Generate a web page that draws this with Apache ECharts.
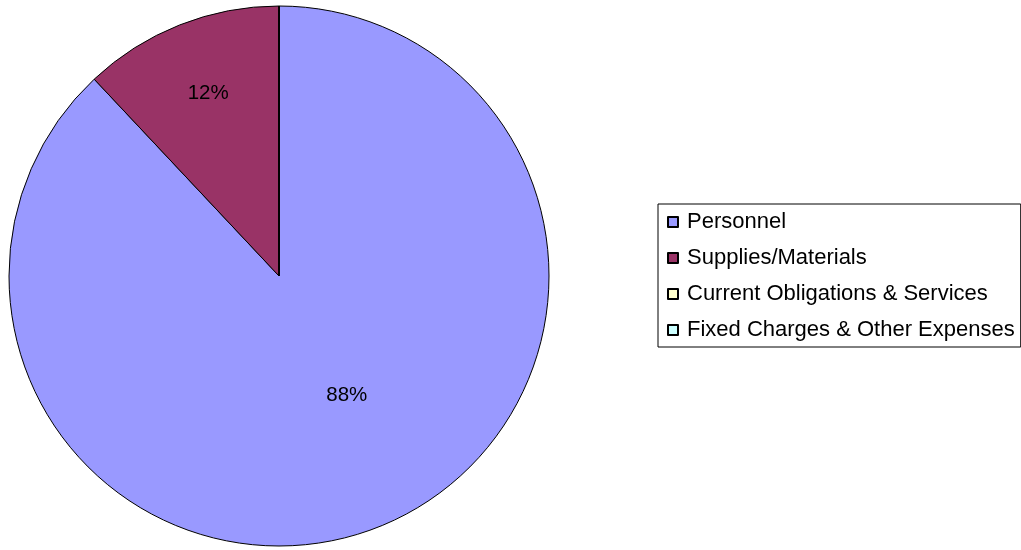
<!DOCTYPE html>
<html>
<head>
<meta charset="utf-8">
<script src="https://cdn.jsdelivr.net/npm/echarts@6/dist/echarts.min.js"></script>
<style>
  html, body { margin: 0; padding: 0; background: #fff; }
  #chart { width: 1021px; height: 550px; }
</style>
</head>
<body>
<div id="chart"></div>
<script>
// 费用构成
var categories = ["Personnel", "Supplies/Materials", "Current Obligations & Services", "Fixed Charges & Other Expenses"];
var values = [88, 12, 0, 0];
var colors = ["#9999ff", "#993366", "#ffffcc", "#ccffff"];

var chart = echarts.init(document.getElementById("chart"));
chart.setOption({
  animation: false,
  textStyle: { fontFamily: "Liberation Sans, Arial, sans-serif" },
  legend: {
    orient: "vertical",
    left: 658,
    top: 204,
    padding: [7, 6, 6, 9],
    borderColor: "#000",
    borderWidth: 1,
    itemWidth: 10,
    itemHeight: 10,
    itemGap: 14,
    icon: "rect",
    selectedMode: false,
    textStyle: { fontSize: 22, color: "#000", lineHeight: 22, padding: [0, 0, 0, 4] },
    data: categories
  },
  series: [
    {
      type: "pie",
      center: [279, 276],
      radius: 270,
      startAngle: 90,
      clockwise: true,
      avoidLabelOverlap: false,
      stillShowZeroSum: false,
      itemStyle: { borderColor: "#000", borderWidth: 1 },
      label: {
        position: "inside",
        formatter: function (p) { return p.value > 0 ? p.value + "%" : ""; },
        fontSize: 20.5,
        color: "#000"
      },
      labelLayout: function (params) {
        // 按 Excel 的标签位置微调
        if (params.dataIndex === 0) return { dx: 17, dy: -9 };
        if (params.dataIndex === 1) return { dx: -20, dy: -54 };
        return {};
      },
      emphasis: { disabled: true },
      data: categories.map(function (c, i) {
        return { name: c, value: values[i], itemStyle: { color: colors[i] } };
      })
    }
  ]
});
</script>
</body>
</html>
